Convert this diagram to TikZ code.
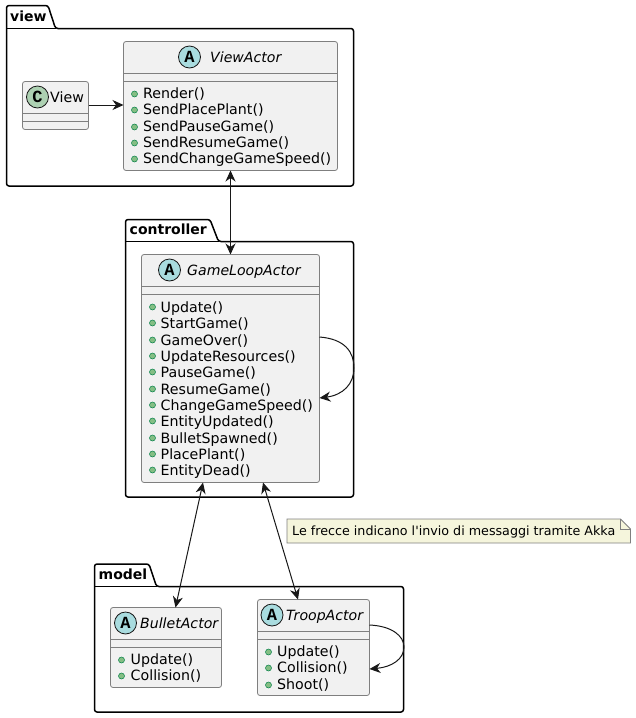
\documentclass[tikz,border=0pt]{standalone}
\usepackage{fontspec}
\setmainfont{DejaVu Sans}
\setmonofont{Liberation Mono}
\newfontfamily\notefont{DejaVu Sans}
\usetikzlibrary{arrows.meta}

\definecolor{lineblack}{HTML}{181818}
\definecolor{classfill}{HTML}{F1F1F1}
\definecolor{classedge}{HTML}{7F7F7F}
\definecolor{abstractcirc}{HTML}{A9DCDF}
\definecolor{classcirc}{HTML}{ADD1B2}
\definecolor{dotfill}{HTML}{84BE84}
\definecolor{dotedge}{HTML}{038048}
\definecolor{notefill}{HTML}{F5F5DC}

\tikzset{
	umlbox/.style={draw=classedge,fill=classfill,line width=0.8pt,rounded corners=2.5pt,inner sep=0pt,outer sep=0pt},
	divider/.style={draw=classedge,line width=0.8pt},
	package/.style={draw=black,line width=1.5pt,rounded corners=2.5pt},
	pkglabel/.style={anchor=base west,inner sep=0pt,font=\fontsize{14}{16}\selectfont\bfseries},
	title/.style={anchor=base west,inner sep=0pt,font=\fontsize{14.1}{16}\selectfont\itshape},
	member/.style={anchor=base west,inner sep=0pt,font=\fontsize{14.2}{16}\selectfont},
	memberdot/.style={circle,draw=dotedge,fill=dotfill,line width=0.5pt,minimum size=6pt,inner sep=0pt},
	circA/.style={circle,draw=lineblack,fill=abstractcirc,line width=0.8pt,minimum size=22pt,inner sep=0pt,font=\fontsize{17}{18}\selectfont\ttfamily\bfseries},
	circC/.style={circA,fill=classcirc},
	link/.style={draw=lineblack,line width=1pt,>={Stealth[length=11pt,width=10pt,inset=3.5pt]}}
}

\begin{document}
\begin{tikzpicture}[x=1pt,y=-1pt]
	\useasboundingbox (0,0) rectangle (636,718);

	% packages
	\foreach \pname/\l/\tabtop/\tabr/\tabx/\r/\bodytop/\bot in {view/6.5/5.5/48/55.5/353.5/28.5/186,controller/125.5/219.5/210/218.5/353.5/241.5/497,model/94.5/564/149/156.5/403.5/586.5/712}{
		\draw[package] (\l,\bodytop) -- (\l,\tabtop) -- (\tabr,\tabtop) -- (\tabx,\bodytop) -- (\r,\bodytop) -- (\r,\bot) -- (\l,\bot) -- cycle;
		\draw[package,rounded corners=0pt,line width=1.2pt] (\l,\bodytop) -- (\tabx,\bodytop);
	}
	\node[pkglabel] (viewlabel) at (10,21) {view};
	\node[pkglabel] (controllerlabel) at (129.5,234) {controller};
	\node[pkglabel] (modellabel) at (98.5,579) {model};

	% classes
	\node[umlbox,minimum width=66pt,minimum height=48pt] (view) at (55.5,105.5) {};
	\node[umlbox,minimum width=214pt,minimum height=129pt] (viewactor) at (230.5,106) {};
	\node[umlbox,minimum width=178pt,minimum height=228pt] (gameloop) at (230.5,368.5) {};
	\node[umlbox,minimum width=111pt,minimum height=80pt] (bullet) at (166,647.5) {};
	\node[umlbox,minimum width=112pt,minimum height=96pt] (troop) at (313.5,647.5) {};

	% dividers
	\foreach \a/\b/\y in {22.5/88.5/113.5,22.5/88.5/121.5,123.5/337.5/73.5,123.5/337.5/81.5,141.5/319.5/286.5,141.5/319.5/294.5,110.5/221.5/639.5,110.5/221.5/647.5,257.5/369.5/631.5,257.5/369.5/639.5}{
		\draw[divider] (\a,\y) -- (\b,\y);
	}

	% headers
	\node[circC] (viewcirc) at (37.5,97) {C};
	\node[member] (viewname) at (50,102) {View};
	\node[circA] (viewactorcirc) at (189.5,57) {A};
	\node[title] (viewactorname) at (210,62) {ViewActor};
	\node[circA] (gameloopcirc) at (169.5,270) {A};
	\node[title] (gameloopname) at (187,275) {GameLoopActor};
	\node[circA] (bulletcirc) at (125.5,623) {A};
	\node[title] (bulletname) at (140,628) {BulletActor};
	\node[circA] (troopcirc) at (272,615) {A};
	\node[title] (troopname) at (286,620) {TroopActor};

	% members
	\foreach \y/\txt [count=\i] in {93/Render(),109/SendPlacePlant(),126/SendPauseGame(),142/SendResumeGame(),158/SendChangeGameSpeed()}{
		\node[memberdot] (vd\i) at (134.5,\y+1) {};
		\node[member] (vm\i) at (143,\y+5) {\txt};
	}
	\foreach \y/\txt [count=\i] in {306/Update(),322/StartGame(),339/GameOver(),355/UpdateResources(),371/PauseGame(),388/ResumeGame(),404/ChangeGameSpeed(),420/EntityUpdated(),437/BulletSpawned(),453/PlacePlant(),469/EntityDead()}{
		\node[memberdot] (gd\i) at (152.5,\y+1) {};
		\node[member] (gm\i) at (160.5,\y+6) {\txt};
	}
	\foreach \y/\txt [count=\i] in {659/Update(),675/Collision()}{
		\node[memberdot] (bd\i) at (121.5,\y+1) {};
		\node[member] (bm\i) at (130.5,\y+5) {\txt};
	}
	\foreach \y/\txt [count=\i] in {651/Update(),667/Collision(),684/Shoot()}{
		\node[memberdot] (td\i) at (268.5,\y+1) {};
		\node[member] (tm\i) at (277,\y+5) {\txt};
	}

	% connectors
	\coordinate (viewout) at (88.5,105);
	\coordinate (viewin) at (123.5,105);
	\coordinate (glbullet) at (203,482.5);
	\coordinate (bulletgl) at (175.5,607.5);
	\coordinate (gltroop) at (263,482.5);
	\coordinate (troopgl) at (298,599.5);
	\coordinate (gloopout) at (319.5,337);
	\coordinate (gloopin) at (319.5,398);
	\coordinate (tloopout) at (369.5,625);
	\coordinate (tloopin) at (369.5,669);

	\draw[link,->] (viewout) -- (viewin);
	\draw[link,<->] (viewactor.south) -- (gameloop.north);
	\draw[link,<->] (glbullet) -- (bulletgl);
	\draw[link,<->] (gltroop) -- (troopgl);
	\draw[link,->] (gloopout) .. controls (345,339) and (354,352) .. (354,368) .. controls (354,384) and (343,395) .. (gloopin);
	\draw[link,->] (tloopout) .. controls (392,626) and (404,636) .. (404,647) .. controls (404,659) and (392,667) .. (tloopin);

	% note
	\draw[draw=classedge,fill=notefill,line width=0.8pt] (287,519) -- (620.5,519) -- (630.5,529) -- (630.5,543) -- (287,543) -- cycle;
	\draw[draw=classedge,line width=0.8pt] (620.5,519) -- (620.5,529) -- (630.5,529);
	\node[member,font=\fontsize{12.7}{15}\selectfont\notefont] (notetext) at (292,535) {Le frecce indicano l'invio di messaggi tramite Akka};
\end{tikzpicture}
\end{document}
